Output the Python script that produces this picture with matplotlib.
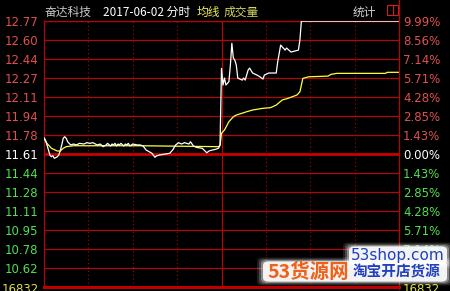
import matplotlib
matplotlib.use('Agg')
import matplotlib.pyplot as plt
from matplotlib.patches import Rectangle, FancyBboxPatch
from matplotlib.lines import Line2D

# ---------------- data ----------------
stock_name = "奋达科技"
date_text = "2017-06-02 分时"
prev_close = 11.61
limit_up = 12.771

left_labels = ["12.77", "12.60", "12.44", "12.27", "12.11", "11.94", "11.78",
               "11.61", "11.44", "11.28", "11.11", "10.95", "10.78", "10.62"]
right_labels = ["9.99%", "8.56%", "7.14%", "5.71%", "4.28%", "2.85%", "1.43%",
                "0.00%", "1.43%", "2.85%", "4.28%", "5.71%", "7.14%"]
volume_label = "16832"

price_min = [0, 1, 2, 3, 4, 5, 6, 7, 9, 10, 11, 12, 13, 14, 15, 16, 18, 20, 22, 24,
             27, 29, 31, 33, 36, 38, 40, 42, 43, 45, 46, 47, 48, 49, 50, 51, 52, 54,
             55, 56, 57, 58, 60, 63, 65, 67, 69, 73, 75, 76, 78, 82, 85, 87, 89, 91,
             93, 95, 98, 99, 101, 103, 107, 110, 112, 116, 118, 119,
             120, 121, 122, 123, 125, 126, 127, 128, 129, 130, 131, 134, 135, 136,
             138, 139, 141, 144, 146, 148, 149, 152, 157, 158, 160, 161, 163, 164,
             167, 172, 173, 174, 240]
price_val = [11.752, 11.732, 11.689, 11.645, 11.601, 11.586, 11.595, 11.572, 11.586,
             11.601, 11.640, 11.689, 11.747, 11.761, 11.747, 11.717, 11.689, 11.697,
             11.689, 11.703, 11.697, 11.709, 11.703, 11.709, 11.689, 11.697, 11.674,
             11.689, 11.703, 11.680, 11.697, 11.689, 11.703, 11.680, 11.697, 11.689,
             11.703, 11.680, 11.697, 11.689, 11.703, 11.680, 11.697, 11.689, 11.689,
             11.680, 11.645, 11.616, 11.581, 11.593, 11.601, 11.610, 11.616, 11.645,
             11.689, 11.709, 11.697, 11.709, 11.697, 11.717, 11.680, 11.668, 11.660,
             11.621, 11.639, 11.651, 11.660, 11.689,
             12.357, 12.212, 12.273, 12.212, 12.241, 12.386, 12.576, 12.447, 12.430,
             12.386, 12.273, 12.255, 12.273, 12.255, 12.343, 12.360, 12.317, 12.299,
             12.284, 12.264, 12.299, 12.317, 12.317, 12.415, 12.561, 12.546, 12.517,
             12.535, 12.500, 12.517, 12.604, 12.770, 12.770]

avg_min = [0, 2, 5, 9, 11, 13, 15, 20, 65, 118, 119, 120, 122, 125, 128, 130, 137,
           141, 148, 153, 157, 161, 165, 171, 173, 175, 179, 192, 194, 198, 231, 232, 240]
avg_val = [11.741, 11.703, 11.660, 11.636, 11.636, 11.660, 11.674, 11.682, 11.682,
           11.674, 11.684, 11.791, 11.819, 11.892, 11.935, 11.950, 11.979, 11.994,
           12.009, 12.014, 12.037, 12.081, 12.096, 12.125, 12.153, 12.270, 12.284,
           12.290, 12.305, 12.314, 12.314, 12.323, 12.323]

# ---------------- figure ----------------
W, H = 450, 291
fig = plt.figure(figsize=(W / 100, H / 100), dpi=100, facecolor='black')
fx = lambda px: px / W
fy = lambda py: 1 - py / H

step = (limit_up - prev_close) / 7
levels = [prev_close + k * step for k in range(7, -8, -1)]

ax = fig.add_axes([fx(44), fy(287), fx(399) - fx(44), fy(21) - fy(287)])
ax.set_facecolor('black')
ax.set_xlim(0, 240)
ax.set_ylim(levels[-1], levels[0])

GRID = '#b00808'
for lv in levels:
    if abs(lv - prev_close) < 1e-9:
        ax.axhline(lv, color='#cc0000', lw=2.0, zorder=1)
    else:
        ax.axhline(lv, color=GRID, lw=0.9, zorder=1)
for m in [30, 60, 90, 150, 180, 210]:
    ax.axvline(m, color='#b00000', lw=0.8, ls=(0, (1, 2.5)), zorder=1)
ax.axvline(120, color=GRID, lw=0.9, zorder=1)

ax.plot(avg_min, avg_val, color='#ffff40', lw=0.9, zorder=3)
ax.plot(price_min, price_val, color='white', lw=0.9, zorder=4)

for s in ['left', 'right', 'top']:
    ax.spines[s].set_color(GRID)
    ax.spines[s].set_linewidth(0.9)
ax.spines['bottom'].set_color('#c00000')
ax.spines['bottom'].set_linewidth(2.2)
ax.spines['right'].set_visible(False)

RED = '#e05050'
GREEN = '#50e050'
lab_colors = [RED] * 7 + ['white'] + [GREEN] * 7

ax.set_xticks([])
ax.set_yticks(levels[:len(left_labels)])
ax.set_yticklabels(left_labels, fontsize=8.5, family='DejaVu Sans')
ax.tick_params(axis='y', length=0, pad=4)
for t, c in zip(ax.get_yticklabels(), lab_colors):
    t.set_color(c)

ax2 = ax.twinx()
ax2.set_ylim(ax.get_ylim())
ax2.set_yticks(levels[:len(right_labels)])
ax2.set_yticklabels(right_labels, fontsize=8.5, family='DejaVu Sans')
ax2.tick_params(axis='y', length=0, pad=3)
for t, c in zip(ax2.get_yticklabels(), lab_colors):
    t.set_color(c)
for s in ax2.spines.values():
    s.set_visible(False)

# right border line spanning full height
fig.add_artist(Line2D([fx(399), fx(399)], [fy(289), 1], color=GRID, lw=0.9))

# header
CJK = ['Noto Sans CJK SC', 'DejaVu Sans']
ty = fy(12)
fig.text(fx(45), ty, stock_name, color='#c8c8c8', fontsize=8.5, family=CJK, va='center')
fig.text(fx(103), ty, date_text, color='white', fontsize=8.5, family=CJK, va='center')
fig.text(fx(197), ty, "均线", color='#f0f050', fontsize=8.5, family=CJK, va='center')
fig.text(fx(224), ty, "成交量", color='#d4d460', fontsize=8.5, family=CJK, va='center')
fig.text(fx(353), ty, "统计", color='#d0d0d0', fontsize=8.5, family=CJK, va='center')
fig.add_artist(Rectangle((fx(387), fy(15)), fx(11), 10 / H, fill=False, ec='#d02020', lw=0.8))
fig.add_artist(Line2D([fx(392.5), fx(392.5)], [fy(15), fy(5)], color='#d02020', lw=0.8))

# volume label (cut off at bottom, as in the reference)
fig.text(fx(39), fy(283), volume_label, color='#e0e040', fontsize=8.5, ha='right', va='top')
fig.text(fx(403), fy(283), volume_label, color='#e0e040', fontsize=8.5, ha='left', va='top')

# watermark
def glow_box(x0, y0, x1, y1):
    for pad, a in [(7, 0.12), (5, 0.2), (3, 0.35), (1, 0.9)]:
        fig.add_artist(FancyBboxPatch((fx(x0), fy(y1)), fx(x1 - x0), (y1 - y0) / H,
                                      boxstyle=f"round,pad={pad / W},rounding_size={6 / W}",
                                      fc='white', ec='none', alpha=a, zorder=10))

glow_box(350, 247, 446, 264)
glow_box(264, 262, 446, 281)
fig.text(fx(398), fy(255.5), "53shop.com", color='#2040c0', fontsize=11, family='DejaVu Sans',
         ha='center', va='center', zorder=11)
fig.text(fx(308), fy(272), "53货源网", color='#f06018', fontsize=14, family=CJK, weight='bold',
         ha='center', va='center', zorder=11)
fig.text(fx(397), fy(272), "淘宝开店货源", color='#2040c0', fontsize=10.5, family=CJK, weight='bold',
         ha='center', va='center', zorder=11)

fig.savefig('out.png', dpi=100, facecolor='black')
